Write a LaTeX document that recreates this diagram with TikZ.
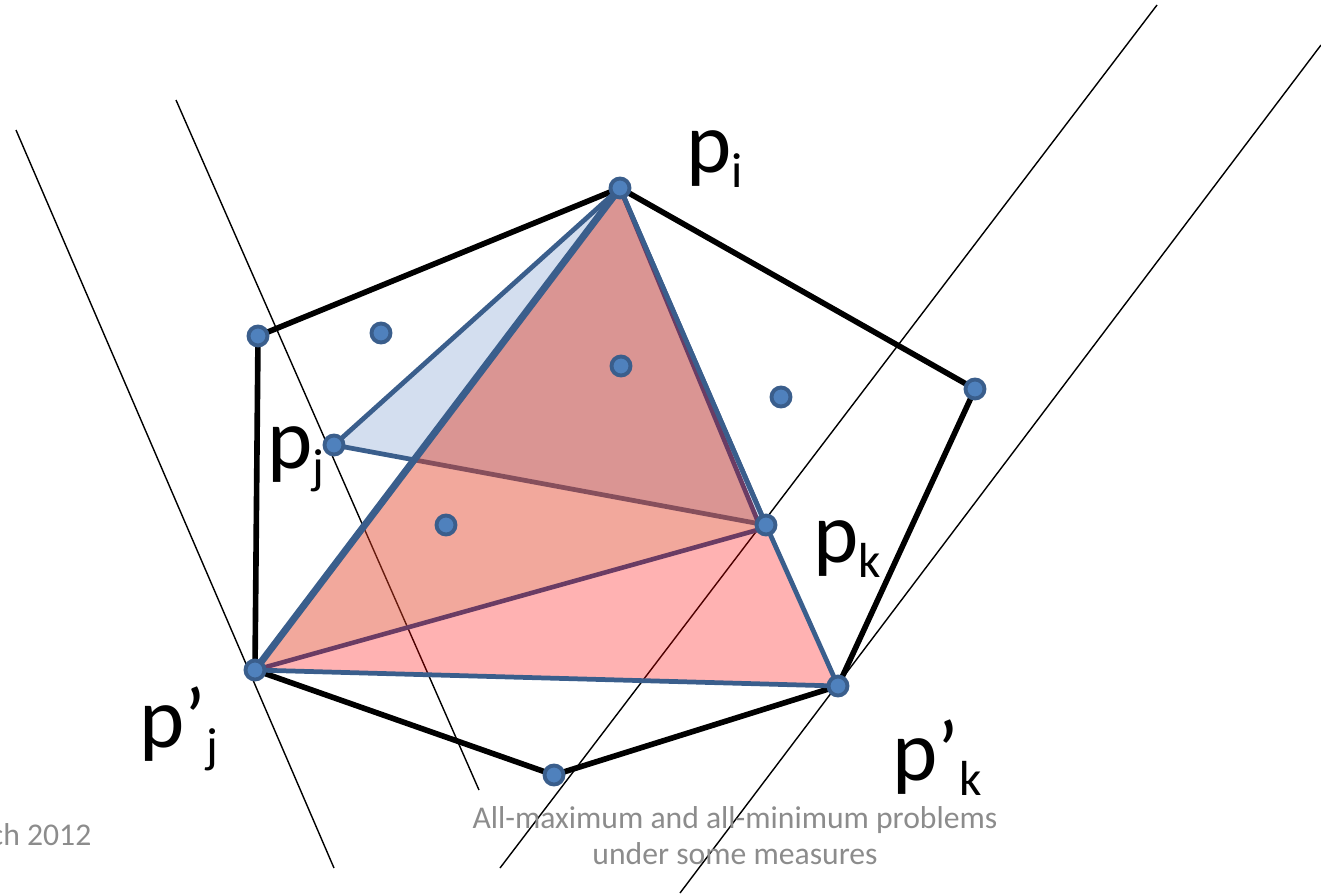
\documentclass[tikz,border=0pt]{standalone}
\usepackage{fontspec}
\setmainfont{Carlito}
\definecolor{blueline}{HTML}{3A5E8C}
\definecolor{dotfill}{HTML}{4F81BD}
\definecolor{lightblue}{HTML}{D3DEEF}
\definecolor{redov}{RGB}{227,62,35}
\definecolor{purpleedge}{HTML}{6A3C64}
\definecolor{graytext}{HTML}{8C8C8C}
\newcommand{\subtxt}[1]{{\fontsize{14}{14}\selectfont\raisebox{-4.5pt}{#1}}}
\begin{document}
\begin{tikzpicture}[x=0.01cm,y=-0.01cm,
  thinline/.style={line width=0.4pt,black},
  hull/.style={line width=1.6pt,black,line join=round},
  tri/.style={line width=1.35pt,blueline,line join=round},
  dot/.style={circle,inner sep=0pt,minimum size=0.19cm,fill=dotfill,draw=blueline,line width=1.1pt},
  lbl/.style={inner sep=0pt,font=\fontsize{24.5}{24.5}\selectfont,anchor=base west},
  note/.style={inner sep=0pt,font=\fontsize{9}{10.2}\selectfont,text=graytext,align=center}]
\useasboundingbox (0,0) rectangle (1321,893);
% point positions
\coordinate (cpi) at (620,188);
\coordinate (ca) at (258,336);
\coordinate (cb) at (381,333);
\coordinate (cc) at (621,366);
\coordinate (cd) at (781,397);
\coordinate (ce) at (975,389);
\coordinate (cpj) at (334,445);
\coordinate (cf) at (446,525);
\coordinate (cpk) at (766,525);
\coordinate (cpk2) at (761,529);
\coordinate (cqj) at (255,670);
\coordinate (cqk) at (838,686);
\coordinate (cg) at (554,775);
% thin support lines
\coordinate (l1a) at (16,130); \coordinate (l1b) at (334,868);
\coordinate (l2a) at (176,100); \coordinate (l2b) at (479,790);
\coordinate (l3a) at (1157,5); \coordinate (l3b) at (500,868);
\coordinate (l4a) at (1321,45); \coordinate (l4b) at (680,893);
\draw[thinline] (l1a) -- (l1b);
\draw[thinline] (l2a) -- (l2b);
\draw[thinline] (l3a) -- (l3b);
\draw[thinline] (l4a) -- (l4b);
% convex hull
\draw[hull] (cpi) -- (ce) -- (cqk) -- (cg) -- (cqj) -- (ca) -- cycle;
% blue triangle
\filldraw[tri,fill=lightblue] (cpi) -- (cpj) -- (cpk) -- cycle;
% pink triangle
\fill[red,opacity=0.3] (cqj) -- (cpk) -- (cqk) -- cycle;
% red translucent triangle
\fill[redov,opacity=0.45] (cpi) -- (cqj) -- (cpk2) -- cycle;
\draw[line width=1.3pt,purpleedge,line join=round] (cpi) -- (cqj) -- (cpk2) -- cycle;
% blue edges on top
\draw[tri] (cpi) -- (cpk) -- (cqk) -- (cqj);
\draw[line width=2pt,blueline,line cap=round] (cpi) -- (cqj);
% dots
\foreach \n in {pi,a,b,c,d,e,pj,f,pk,qj,qk,g} {\node[dot] (\n) at (c\n) {};}
% labels
\node[lbl] (lpi) at (686,172) {p\subtxt{i}};
\node[lbl] (lpj) at (267,468) {p\subtxt{j}};
\node[lbl] (lpk) at (813,562) {p\subtxt{k}};
\node[lbl] (lqj) at (139,747) {p’\subtxt{j}};
\node[lbl] (lqk) at (892,780) {p’\subtxt{k}};
\node[note] (title) at (735,836) {All-maximum and all-minimum problems\\under some measures};
\node[inner sep=0pt,font=\fontsize{9}{10}\selectfont,text=graytext,anchor=base east] (date) at (92,845) {ch 2012};
\end{tikzpicture}
\end{document}
